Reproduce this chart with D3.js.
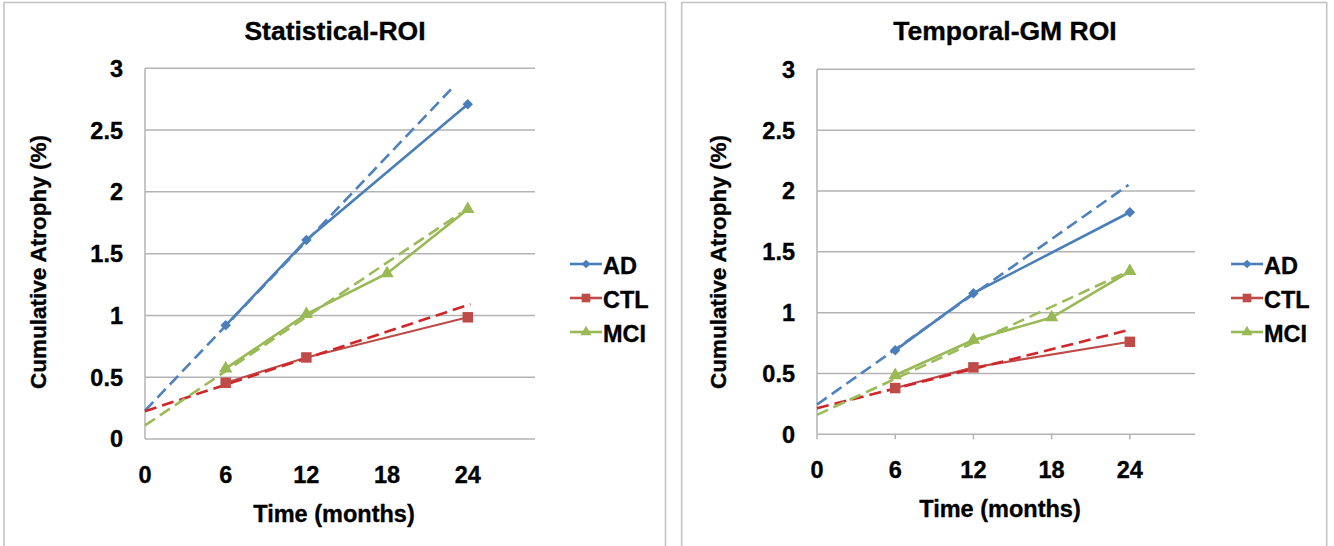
<!DOCTYPE html>
<html>
<head>
<meta charset="utf-8">
<script src="https://cdn.jsdelivr.net/npm/d3@7"></script>
<style>
  body { margin: 0; background: #fff; }
  text { font-family: "Liberation Sans", Arial, sans-serif; font-weight: bold; fill: #000; stroke: #000; stroke-width: 0.35px; }
</style>
</head>
<body>
<div id="chart"></div>
<script>
// Axis ticks and legend entries
const months = [0, 6, 12, 18, 24];
const yTicks = [0, 0.5, 1, 1.5, 2, 2.5, 3];
const groups = ["AD", "CTL", "MCI"];

// Statistical-ROI: [month, cumulative atrophy %]
const statAD = [[6, 0.92], [12, 1.61], [24, 2.71]];
const statCTL = [[6, 0.455], [12, 0.66], [24, 0.985]];
const statMCI = [[6, 0.57], [12, 1.01], [18, 1.34], [24, 1.86]];
// Statistical-ROI trend lines (start / end)
const statTrendAD = [[0, 0.23], [22.75, 2.83]];
const statTrendCTL = [[0, 0.225], [24.2, 1.09]];
const statTrendMCI = [[0, 0.11], [23.5, 1.83]];

// Temporal-GM ROI
const tempAD = [[6, 0.69], [12, 1.16], [24, 1.825]];
const tempCTL = [[6, 0.38], [12, 0.55], [24, 0.76]];
const tempMCI = [[6, 0.485], [12, 0.775], [18, 0.96], [24, 1.34]];
const tempTrendAD = [[0, 0.245], [23.9, 2.05]];
const tempTrendCTL = [[0, 0.215], [24, 0.86]];
const tempTrendMCI = [[0, 0.16], [23.5, 1.32]];

const colors = { AD: "#4a7ebb", CTL: "#be4b48", MCI: "#98b954" };
const trendColors = { AD: "#4f81bd", CTL: "#d0262a", MCI: "#9bbb59" };
const lineWidths = { AD: 2.6, CTL: 2.1, MCI: 2.6 };

const svg = d3.select("#chart")
  .append("svg")
  .attr("width", 1334)
  .attr("height", 546);

// marker shapes like Excel's: diamond, square, triangle
function marker(g, name, size) {
  if (name === "AD") {
    return g.append("path")
      .attr("d", d3.symbol(d3.symbolSquare, size * 0.5)())
      .attr("transform", "rotate(45)");
  }
  if (name === "CTL") return g.append("path").attr("d", d3.symbol(d3.symbolSquare, size)());
  return g.append("path").attr("d", d3.symbol(d3.symbolTriangle, size * 0.7)());
}

function drawPanel(p) {
  const g = svg.append("g");

  // panel frame
  g.append("rect")
    .attr("x", p.frame[0]).attr("y", 2.5)
    .attr("width", p.frame[1]).attr("height", 600)
    .attr("fill", "none")
    .attr("stroke", "#c4c4c4")
    .attr("stroke-width", 1.6);

  const x = d3.scaleLinear().domain([0, 29]).range(p.xRange);
  const y = d3.scaleLinear().domain([0, 3]).range(p.yRange);

  // horizontal grid
  g.selectAll(".grid")
    .data(yTicks)
    .join("line")
    .attr("x1", x(0)).attr("x2", x(29))
    .attr("y1", d => y(d)).attr("y2", d => y(d))
    .attr("stroke", "#b3b3b3")
    .attr("stroke-width", 1.5);

  // y axis line
  g.append("line")
    .attr("x1", x(0)).attr("x2", x(0))
    .attr("y1", y(0)).attr("y2", y(3))
    .attr("stroke", "#b3b3b3")
    .attr("stroke-width", 1.5);

  if (p.xTicks) {
    g.selectAll(".xtick")
      .data(months)
      .join("line")
      .attr("x1", d => x(d)).attr("x2", d => x(d))
      .attr("y1", y(0)).attr("y2", y(0) + 5)
      .attr("stroke", "#b3b3b3")
      .attr("stroke-width", 1.5);
  }

  // tick labels
  g.selectAll(".ylab")
    .data(yTicks)
    .join("text")
    .attr("x", x(0) - 22)
    .attr("y", d => y(d))
    .attr("dy", "0.36em")
    .attr("text-anchor", "end")
    .attr("font-size", 23.5)
    .text(d => d);

  g.selectAll(".xlab")
    .data(months)
    .join("text")
    .attr("x", d => x(d))
    .attr("y", y(0) + 44)
    .attr("text-anchor", "middle")
    .attr("font-size", 23.5)
    .text(d => d);

  // titles
  g.append("text")
    .attr("x", p.titleX).attr("y", 39.5)
    .attr("text-anchor", "middle")
    .attr("font-size", 26.5)
    .text(p.title);

  g.append("text")
    .attr("x", (x(0) + x(29)) / 2 - 6)
    .attr("y", y(0) + 83)
    .attr("text-anchor", "middle")
    .attr("font-size", 23.5)
    .text("Time (months)");

  g.append("text")
    .attr("transform", `translate(${p.yTitleX},262) rotate(-90)`)
    .attr("text-anchor", "middle")
    .attr("font-size", 22.5)
    .text("Cumulative Atrophy (%)");

  const line = d3.line().x(d => x(d[0])).y(d => y(d[1]));

  // series lines
  groups.forEach(name => {
    g.append("path")
      .datum(p.series[name])
      .attr("d", line)
      .attr("fill", "none")
      .attr("stroke", colors[name])
      .attr("stroke-width", lineWidths[name]);
  });

  // dashed trend lines
  groups.forEach(name => {
    g.append("path")
      .datum(p.trends[name])
      .attr("d", line)
      .attr("fill", "none")
      .attr("stroke", trendColors[name])
      .attr("stroke-width", 2.6)
      .attr("stroke-dasharray", "12,6");
  });

  // markers
  groups.forEach(name => {
    p.series[name].forEach(d => {
      const mg = g.append("g").attr("transform", `translate(${x(d[0])},${y(d[1])})`);
      marker(mg, name, 110).attr("fill", colors[name]);
    });
  });

  // legend
  groups.forEach((name, i) => {
    const base = 274 + i * 34;
    g.append("line")
      .attr("x1", p.legendX).attr("x2", p.legendX + 32)
      .attr("y1", base - 10).attr("y2", base - 10)
      .attr("stroke", colors[name])
      .attr("stroke-width", 2.6);
    const mg = g.append("g").attr("transform", `translate(${p.legendX + 16},${base - 10})`);
    marker(mg, name, 75).attr("fill", colors[name]);
    g.append("text")
      .attr("x", p.legendX + 33)
      .attr("y", base)
      .attr("font-size", 23.5)
      .text(name);
  });
}

drawPanel({
  title: "Statistical-ROI",
  titleX: 335,
  frame: [4, 661.5],
  xRange: [145, 535],
  yRange: [439, 68.3],
  yTitleX: 46,
  legendX: 570,
  xTicks: false,
  series: { AD: statAD, CTL: statCTL, MCI: statMCI },
  trends: { AD: statTrendAD, CTL: statTrendCTL, MCI: statTrendMCI }
});

drawPanel({
  title: "Temporal-GM ROI",
  titleX: 1005,
  frame: [681.7, 645],
  xRange: [817, 1195],
  yRange: [434.3, 69.3],
  yTitleX: 726,
  legendX: 1231,
  xTicks: true,
  series: { AD: tempAD, CTL: tempCTL, MCI: tempMCI },
  trends: { AD: tempTrendAD, CTL: tempTrendCTL, MCI: tempTrendMCI }
});
</script>
</body>
</html>
